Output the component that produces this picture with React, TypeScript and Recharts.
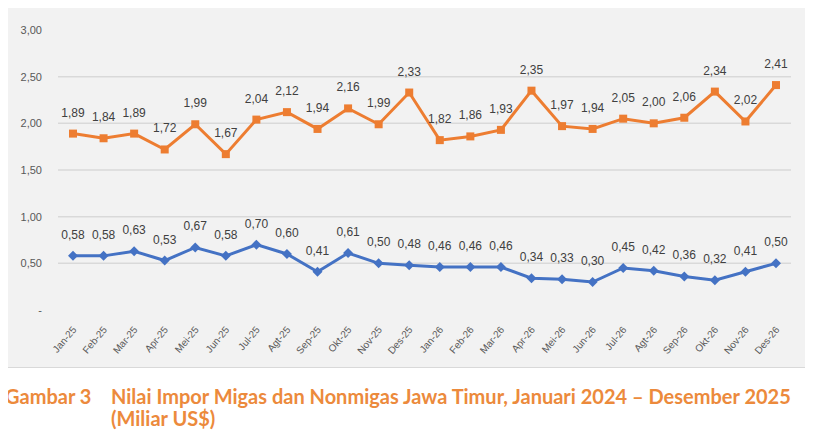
import React from 'react';
import { LineChart, Line, XAxis, YAxis, ReferenceLine, LabelList } from 'recharts';

const months = ['Jan-25','Feb-25','Mar-25','Apr-25','Mei-25','Jun-25','Jul-25','Agt-25','Sep-25','Okt-25','Nov-25','Des-25','Jan-26','Feb-26','Mar-26','Apr-26','Mei-26','Jun-26','Jul-26','Agt-26','Sep-26','Okt-26','Nov-26','Des-26'];
const nonmigas = [1.89,1.84,1.89,1.72,1.99,1.67,2.04,2.12,1.94,2.16,1.99,2.33,1.82,1.86,1.93,2.35,1.97,1.94,2.05,2.00,2.06,2.34,2.02,2.41];
const migas = [0.58,0.58,0.63,0.53,0.67,0.58,0.70,0.60,0.41,0.61,0.50,0.48,0.46,0.46,0.46,0.34,0.33,0.30,0.45,0.42,0.36,0.32,0.41,0.50];
const yTicks = [0, 0.5, 1, 1.5, 2, 2.5, 3];
const gridValues = [0.5, 1, 1.5, 2, 2.5];

const data = months.map((m, i) => ({ month: m, nonmigas: nonmigas[i], migas: migas[i] }));

const fmt = (v: number) => v.toFixed(2).replace('.', ',');
const yFmt = (v: number) => (v === 0 ? '-' : fmt(v));

const SquareDot = (props: any) => {
  const { cx, cy } = props;
  if (cx == null || cy == null) return null;
  return <rect x={cx - 4} y={cy - 4} width={8} height={8} fill="#ED7D31" />;
};

const DiamondDot = (props: any) => {
  const { cx, cy } = props;
  if (cx == null || cy == null) return null;
  const r = 5;
  return <polygon points={`${cx},${cy - r} ${cx + r},${cy} ${cx},${cy + r} ${cx - r},${cy}`} fill="#4472C4" />;
};

const XTick = (props: any) => {
  const { x, y, payload } = props;
  const tx = x + 4;
  const ty = y + 12;
  return (
    <text x={tx} y={ty} transform={`rotate(-50, ${tx}, ${ty})`} textAnchor="end" fontSize={10} fill="#595959" fontFamily="Liberation Sans, Arial, sans-serif">
      {payload.value}
    </text>
  );
};

export default function App() {
  return (
    <div style={{ position: 'relative', width: 813, height: 438, margin: -8, background: '#ffffff', overflow: 'hidden' }}>
      <div style={{ position: 'absolute', left: 5, top: 7, width: 800, height: 359, background: '#F2F2F2', border: '1px solid #D9D9D9' }}>
        <LineChart width={800} height={359} data={data} margin={{ top: 22, right: 15, left: 0, bottom: 0 }}>
          {gridValues.map((g) => (
            <ReferenceLine key={g} y={g} stroke="#D9D9D9" strokeWidth={1.5} />
          ))}
          <XAxis dataKey="month" axisLine={false} tickLine={false} height={57} interval={0} padding={{ left: 15, right: 15 }} tick={<XTick />} />
          <YAxis
            domain={[0, 3]}
            ticks={yTicks}
            width={52}
            axisLine={false}
            tickLine={false}
            tickFormatter={yFmt}
            tickMargin={10}
            tick={{ fontSize: 11, fill: '#595959', fontFamily: 'Liberation Sans, Arial, sans-serif' }}
          />
          <Line type="linear" dataKey="nonmigas" stroke="#ED7D31" strokeWidth={3} dot={<SquareDot />} activeDot={false} isAnimationActive={false}>
            <LabelList dataKey="nonmigas" position="top" offset={17} formatter={(v: any) => fmt(Number(v))} style={{ fontSize: 12, fill: '#404040', fontFamily: 'Liberation Sans, Arial, sans-serif' }} />
          </Line>
          <Line type="linear" dataKey="migas" stroke="#4472C4" strokeWidth={3} dot={<DiamondDot />} activeDot={false} isAnimationActive={false}>
            <LabelList dataKey="migas" position="top" offset={17} formatter={(v: any) => fmt(Number(v))} style={{ fontSize: 12, fill: '#404040', fontFamily: 'Liberation Sans, Arial, sans-serif' }} />
          </Line>
        </LineChart>
      </div>
      <div style={{ position: 'absolute', left: 5, top: 385, color: '#EC8A3C', fontFamily: 'Lato, sans-serif', fontWeight: 700, fontSize: 20, lineHeight: '22px', whiteSpace: 'nowrap' }}>
        <div style={{ display: 'flex' }}>
          <span style={{ width: 106, display: 'inline-block' }}>Gambar 3</span>
          <span>Nilai Impor Migas dan Nonmigas Jawa Timur, Januari 2024 – Desember 2025<br />(Miliar US$)</span>
        </div>
      </div>
    </div>
  );
}
